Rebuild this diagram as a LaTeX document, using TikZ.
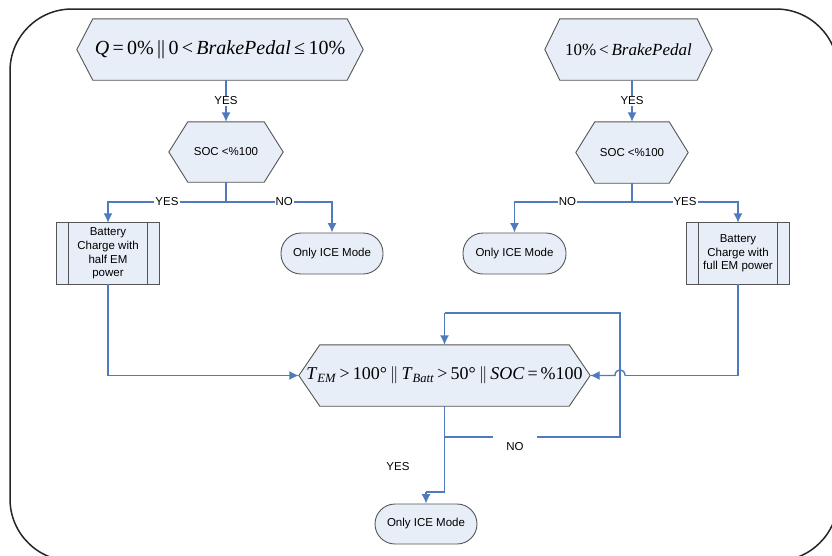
\documentclass[tikz,border=0pt]{standalone}
\usepackage{fontspec}
\setmainfont{Liberation Serif}
\newfontfamily\labelfont{Liberation Sans}
\usetikzlibrary{arrows.meta,backgrounds}

\definecolor{hexfill}{RGB}{232,238,247}
\definecolor{edgegrey}{RGB}{85,85,85}
\definecolor{flowblue}{RGB}{79,123,190}

\tikzset{
  box/.style={draw=none, inner sep=0pt, align=center},
  sanstext/.style={font=\labelfont\fontsize{11.5}{13.7}\selectfont},
  conn/.style={draw=flowblue, line width=1.4pt},
  arr/.style={conn, -{Latex[length=9.5pt,width=9pt]}},
  lbl/.style={sanstext, fill=white, inner sep=1pt},
  terminal/.style={draw=edgegrey, fill=hexfill, line width=0.9pt,
    rounded corners=20pt, sanstext, inner sep=0pt, align=center},
  outline/.style={draw=edgegrey, fill=hexfill, line width=0.9pt},
}

% hexagonal decision outline around a node: name, inset of the side points
\newcommand\hexoutline[2]{%
  \begin{scope}[on background layer]
    \filldraw[outline] (#1.west) -- ([xshift=#2pt]#1.north west)
      -- ([xshift=-#2pt]#1.north east) -- (#1.east)
      -- ([xshift=-#2pt]#1.south east) -- ([xshift=#2pt]#1.south west) -- cycle;
  \end{scope}}

% predefined-process outline: name, inset of the inner bars
\newcommand\processoutline[2]{%
  \begin{scope}[on background layer]
    \filldraw[outline] (#1.north west) rectangle (#1.south east);
    \draw[draw=edgegrey, line width=0.9pt]
      ([xshift=#2pt]#1.north west) -- ([xshift=#2pt]#1.south west)
      ([xshift=-#2pt]#1.north east) -- ([xshift=-#2pt]#1.south east);
  \end{scope}}

\begin{document}
\begin{tikzpicture}[x=1pt, y=-1pt]
  \useasboundingbox (0,0) rectangle (832,555);
  \begin{scope}[on background layer]
    \fill[white] (0,0) rectangle (832,555);
  \end{scope}

  % frame
  \begin{scope}
    \clip (0,0) rectangle (832,555);
    \draw[black!85, line width=1.5pt, rounded corners=62pt] (10,9) rectangle (838,561);
  \end{scope}

  % ---- left branch ----
  \node[box, minimum width=286pt, minimum height=61pt] (q1) at (220,49.5)
    {\fontsize{20}{23}\selectfont \textit{Q}\,=\,0\%\,||\,0\,<\,\textit{BrakePedal}\,≤\,10\%};
  \hexoutline{q1}{16}

  \node[box, sanstext, minimum width=114pt, minimum height=60pt] (socl) at (226,152) {SOC <\%100};
  \hexoutline{socl}{19}

  \node[box, sanstext, minimum width=102pt, minimum height=61pt] (bl) at (108,253.5)
    {Battery\\Charge with\\half EM\\power};
  \processoutline{bl}{12}

  \node[terminal, minimum width=102pt, minimum height=41pt] (icel) at (332,253.5) {Only ICE Mode};

  % ---- right branch ----
  \node[box, minimum width=167pt, minimum height=61pt] (q2) at (628.5,49.5)
    {\fontsize{17}{20}\selectfont 10\%\,<\,\textit{BrakePedal}};
  \hexoutline{q2}{15}

  \node[box, sanstext, minimum width=112pt, minimum height=61pt] (socr) at (632,152.5) {SOC <\%100};
  \hexoutline{socr}{19}

  \node[terminal, minimum width=103pt, minimum height=41pt] (icer) at (514.5,253.5) {Only ICE Mode};

  \node[box, sanstext, minimum width=102pt, minimum height=61pt] (br) at (738,253.5)
    {Battery\\Charge with\\full EM power};
  \processoutline{br}{12}

  % ---- final check ----
  \node[box, minimum width=291pt, minimum height=61pt] (big) at (444.5,375.5)
    {\fontsize{18}{21}\selectfont \textit{T}\textsubscript{\textit{EM}}\,>\,100°\,$\Vert$\,\textit{T}\textsubscript{\textit{Batt}}\,>\,50°\,$\Vert$\,\textit{SOC}\,=\,\%100};
  \hexoutline{big}{21}

  \node[terminal, minimum width=102pt, minimum height=40pt] (iceb) at (426,524) {Only ICE Mode};

  % ---- connectors ----
  \draw[arr] (q1.south -| socl.north) -- node[lbl] {YES} (socl.north);
  \draw[arr] (q2.south -| socr.north) -- node[lbl] {YES} (socr.north);

  \coordinate (jl) at (226,202);
  \draw[conn] (socl.south) -- (jl);
  \draw[arr] (jl) -- node[lbl, pos=0.5] {YES} (jl -| bl.north) -- (bl.north);
  \draw[arr] (jl) -- node[lbl, pos=0.55] {NO} (jl -| icel.north) -- (icel.north);

  \coordinate (jr) at (632,202);
  \draw[conn] (socr.south) -- (jr);
  \draw[arr] (jr) -- node[lbl, pos=0.55] {NO} (jr -| icer.north) -- (icer.north);
  \draw[arr] (jr) -- node[lbl, pos=0.5] {YES} (jr -| br.north) -- (br.north);

  \draw[arr] (bl.south) |- (big.west);

  % loop back into the check when it fails
  \coordinate (la) at (444.5,437);
  \coordinate (lb) at (620,437);
  \coordinate (lc) at (620,313);
  \coordinate (ld) at (444.5,313);
  \draw[conn] (big.south) -- (la) -- (lb) -- (lc) -- (ld);
  \draw[arr] (ld) -- (big.north);
  \node[sanstext, fill=white, minimum width=44pt, minimum height=24pt, inner sep=0pt] (nolbl) at (515,447) {NO};

  % feed from the right, hopping over the loop
  \coordinate (ha) at (625,375.5);
  \coordinate (hb) at (615,375.5);
  \draw[conn] (br.south) |- (ha);
  \draw[arr] (ha) .. controls (625,368) and (615,368) .. (hb) -- (big.east);

  % exit
  \coordinate (ya) at (444.5,492);
  \coordinate (yb) at (426,492);
  \draw[conn] (la) -- (ya) -- (yb);
  \draw[arr] (yb) -- (iceb.north);
  \node[sanstext] (yeslbl) at (398,467) {YES};
\end{tikzpicture}
\end{document}
